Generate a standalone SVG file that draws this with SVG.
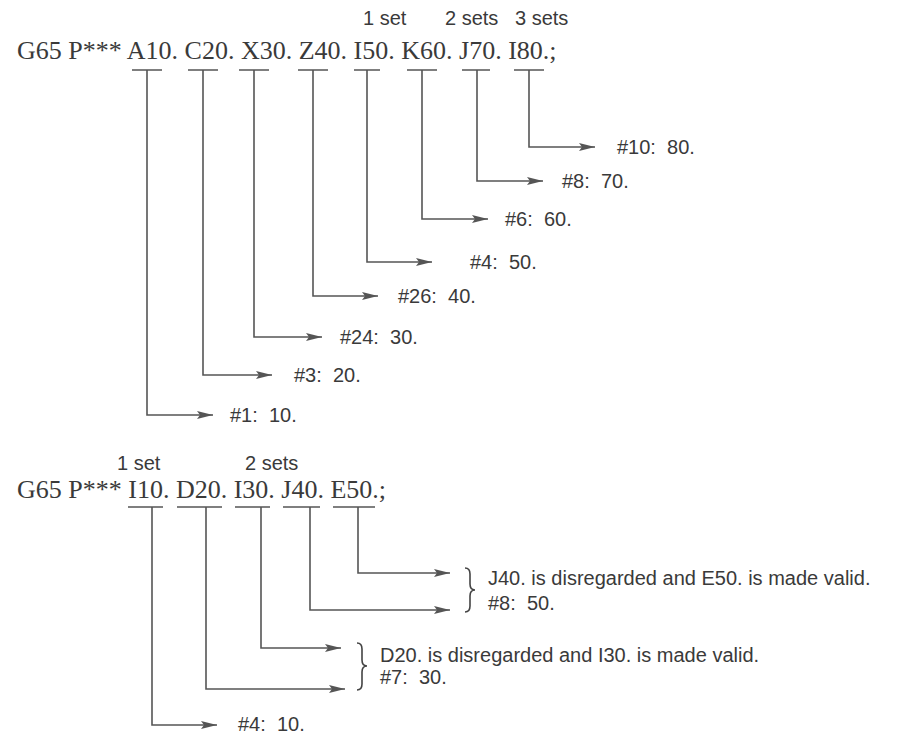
<svg xmlns="http://www.w3.org/2000/svg" width="906" height="738" viewBox="0 0 906 738">
<style>
.code{font-family:"Liberation Serif","Times New Roman",serif;font-size:26px;fill:#3a3a3a}
.lbl{font-family:"Liberation Sans",Arial,sans-serif;font-size:20px;fill:#3a3a3a}
.ln{fill:none;stroke:#555;stroke-width:1.6}
.ar{fill:none;stroke:#555;stroke-width:1.6;marker-end:url(#ah)}
.br{fill:none;stroke:#444;stroke-width:1.6}
</style>
<defs>
<marker id="ah" markerUnits="userSpaceOnUse" markerWidth="17" markerHeight="9" refX="16" refY="4" orient="auto">
<path d="M0,0 L16,4 L0,8 L3,4 z" fill="#555"/>
</marker>
</defs>
<rect width="906" height="738" fill="#ffffff"/>

<g id="set-labels-top">
<text class="lbl" x="363" y="25">1 set</text>
<text class="lbl" x="445" y="25">2 sets</text>
<text class="lbl" x="515" y="25">3 sets</text>
</g>
<g id="code-line-top">
<text class="code" x="17" y="59">G65 P*** A10. C20. X30. Z40. I50. K60. J70. I80.;</text>
</g>

<g id="result-1"><text class="lbl" x="230" y="422">#1:&#160; 10.</text></g>
<g id="result-3"><text class="lbl" x="294" y="382">#3:&#160; 20.</text></g>
<g id="result-24"><text class="lbl" x="340" y="344">#24:&#160; 30.</text></g>
<g id="result-26"><text class="lbl" x="398" y="303">#26:&#160; 40.</text></g>
<g id="result-4a"><text class="lbl" x="470" y="269">#4:&#160; 50.</text></g>
<g id="result-6"><text class="lbl" x="505" y="226">#6:&#160; 60.</text></g>
<g id="result-8a"><text class="lbl" x="562" y="188">#8:&#160; 70.</text></g>
<g id="result-10"><text class="lbl" x="617" y="154">#10:&#160; 80.</text></g>

<g id="set-labels-bottom">
<text class="lbl" x="117" y="470">1 set</text>
<text class="lbl" x="245" y="470">2 sets</text>
</g>
<g id="code-line-bottom">
<text class="code" x="17" y="498">G65 P*** I10. D20. I30. J40. E50.;</text>
</g>

<g id="result-e50">
<path class="br" d="M465,568 Q470,568 470,574 L470,584 Q470,590 475,590 Q470,590 470,596 L470,606 Q470,612 465,612"/>
<text class="lbl" x="488" y="585">J40. is disregarded and E50. is made valid.</text>
<text class="lbl" x="488" y="610">#8:&#160; 50.</text>
</g>
<g id="result-i30">
<path class="br" d="M357,643 Q362,643 362,649 L362,660 Q362,666 367,666 Q362,666 362,672 L362,684 Q362,690 357,690"/>
<text class="lbl" x="380" y="662">D20. is disregarded and I30. is made valid.</text>
<text class="lbl" x="380" y="684">#7:&#160; 30.</text>
</g>
<g id="result-4b"><text class="lbl" x="238" y="731">#4:&#160; 10.</text></g>

<g id="connectors">
<path class="ln" d="M132,70 H162 M188,70 H218 M239,70 H269 M298,70 H328 M354,70 H380 M407,70 H437 M462,70 H490 M514,70 H544"/>
<path class="ar" d="M147,70 V415 H213"/>
<path class="ar" d="M203,70 V375 H272"/>
<path class="ar" d="M254,70 V337 H322"/>
<path class="ar" d="M313,70 V296 H378"/>
<path class="ar" d="M367,70 V262 H432"/>
<path class="ar" d="M422,70 V219 H488"/>
<path class="ar" d="M477,70 V181 H543"/>
<path class="ar" d="M529,70 V147 H595"/>
<path class="ln" d="M128,507 H163 M177,507 H222 M235,507 H270 M283,507 H320 M333,507 H375"/>
<path class="ar" d="M152,507 V725 H217"/>
<path class="ar" d="M206,507 V689 H345"/>
<path class="ar" d="M261,507 V648 H341"/>
<path class="ar" d="M310,507 V610 H450"/>
<path class="ar" d="M358,507 V573 H450"/>
</g>
</svg>
